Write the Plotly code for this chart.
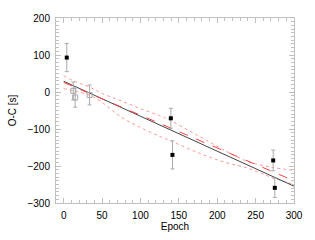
import plotly.graph_objects as go

# Data points (black: filled squares)
epoch_black = [4, 139.6, 141.7, 272.9, 275]
oc_black = [93, -71, -170, -185, -259]
err_black = [38, 27, 38, 28, 26]

# Gray open squares
epoch_gray = [12.5, 15, 33.75]
oc_gray = [3, -15, -8]
err_gray = [24, 26, 27]

# Fit lines
fit_epoch = [0, 300]
fit_black = [29, -254.5]
fit_red = [26, -240]

# Dotted band curves
band_epoch = [0, 15, 33, 50, 75, 100, 125, 137, 175, 210, 240, 270, 300]
band_upper = [44, 28, 14, -4, -24, -45, -64, -75, -118, -158, -188, -203, -212]
band_lower = [9, 2, -8, -28, -68, -96, -120, -130, -164, -190, -206, -230, -250]

fig = go.Figure()

fig.add_trace(go.Scatter(x=band_epoch, y=band_upper, mode="lines",
                         line=dict(color="#ff9a9a", width=1, dash="dot", shape="spline")))
fig.add_trace(go.Scatter(x=band_epoch, y=band_lower, mode="lines",
                         line=dict(color="#ff9a9a", width=1, dash="dot", shape="spline")))
fig.add_trace(go.Scatter(x=fit_epoch, y=fit_black, mode="lines",
                         line=dict(color="#444444", width=1)))
fig.add_trace(go.Scatter(x=fit_epoch, y=fit_red, mode="lines",
                         line=dict(color="#ff4040", width=1, dash="dash")))

fig.add_trace(go.Scatter(x=epoch_gray, y=oc_gray, mode="markers",
                         marker=dict(symbol="square-open", size=5, color="#aaaaaa",
                                     line=dict(width=1, color="#aaaaaa")),
                         error_y=dict(type="data", array=err_gray, color="#aaaaaa",
                                      thickness=1, width=2)))
fig.add_trace(go.Scatter(x=epoch_black, y=oc_black, mode="markers",
                         marker=dict(symbol="square", size=4, color="black"),
                         error_y=dict(type="data", array=err_black, color="#aaaaaa",
                                      thickness=1, width=2)))

axis_common = dict(showgrid=False, zeroline=False, showline=True, linecolor="#c0c0c0",
                    linewidth=1, mirror="allticks", ticks="inside", ticklen=5,
                    tickcolor="#c0c0c0", tickfont=dict(family="Liberation Sans, Arial", size=10, color="black"))

fig.update_layout(
    width=315, height=240,
    margin=dict(l=52, r=16, t=17, b=34),
    paper_bgcolor="white", plot_bgcolor="white",
    showlegend=False,
    font=dict(family="Liberation Sans, Arial", size=10, color="black"),
    xaxis=dict(range=[-10, 300], tickvals=[0, 50, 100, 150, 200, 250, 300],
               minor=dict(dtick=10, tick0=0, ticks="inside", ticklen=3, tickcolor="#c0c0c0"),
               ticklabelstandoff=3,
               title=dict(text="Epoch", standoff=0, font=dict(size=10)),
               **axis_common),
    yaxis=dict(range=[-300, 200], tickvals=[-300, -200, -100, 0, 100, 200],
               minor=dict(dtick=10, tick0=0, ticks="inside", ticklen=3, tickcolor="#c0c0c0"),
               ticklabelstandoff=3,
               title=dict(text="O-C [s]", standoff=8, font=dict(size=10)),
               **axis_common),
)

fig.write_html("out.html", config={"displayModeBar": False},
               post_script="document.body.style.margin='0';")
